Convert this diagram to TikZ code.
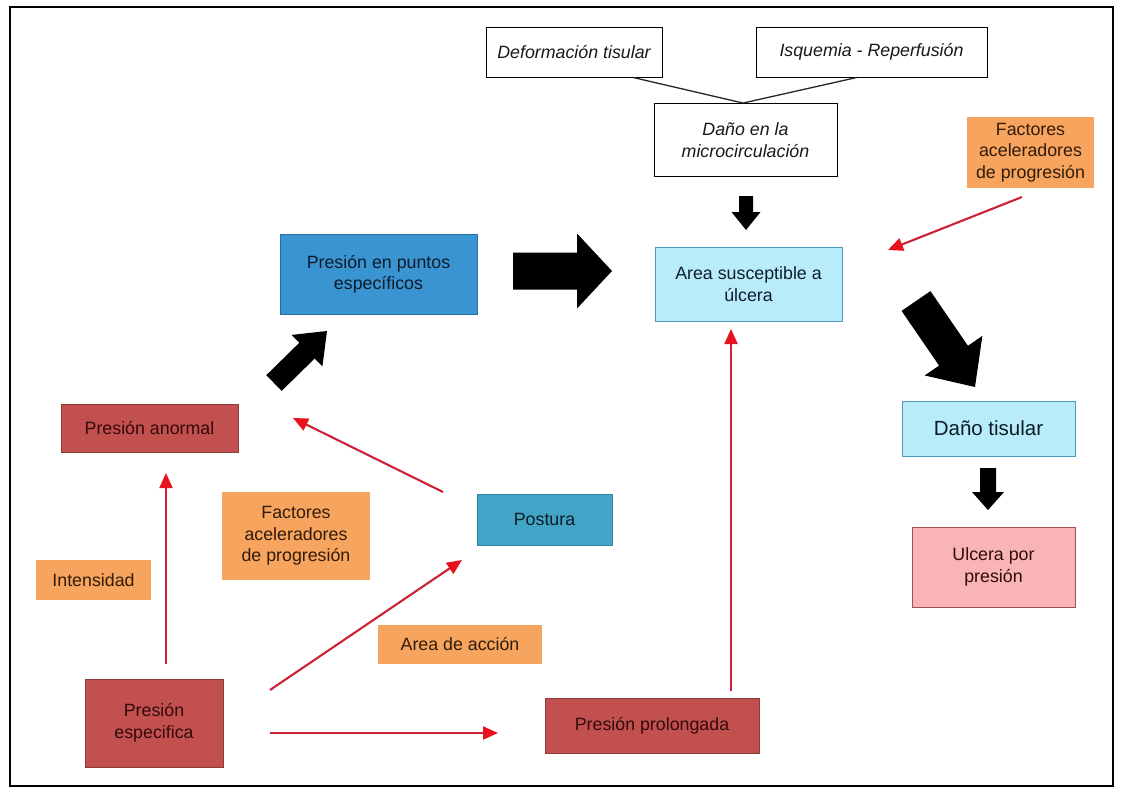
\documentclass[tikz,border=0pt]{standalone}
\usepackage{fontspec}
\setmainfont{Liberation Sans}
\usetikzlibrary{calc,arrows.meta}
\definecolor{cred}{RGB}{194,80,78}
\definecolor{credb}{RGB}{140,58,58}
\definecolor{credt}{RGB}{50,10,10}
\definecolor{cblue}{RGB}{58,148,210}
\definecolor{cblueb}{RGB}{40,110,160}
\definecolor{cteal}{RGB}{66,164,198}
\definecolor{ccyan}{RGB}{184,236,250}
\definecolor{ccyanb}{RGB}{80,150,190}
\definecolor{cpink}{RGB}{248,180,182}
\definecolor{cpinkb}{RGB}{160,80,80}
\definecolor{corange}{RGB}{246,164,94}
\definecolor{cdark}{RGB}{14,28,40}
\definecolor{cbrown}{RGB}{50,28,10}
\definecolor{rline}{RGB}{205,34,54}
\definecolor{rtip}{RGB}{232,18,30}
\newcommand\fatarrow[5]{%
  \coordinate (fah) at ($(#2)!#5!(#1)$);
  \fill[black] ($(#1)!#3!90:(#2)$) -- ($(fah)!#3!90:(#2)$) -- ($(fah)!#4!90:(#2)$) -- (#2)
    -- ($(fah)!#4!-90:(#2)$) -- ($(fah)!#3!-90:(#2)$) -- ($(#1)!#3!-90:(#2)$) -- cycle;}
\begin{document}
\begin{tikzpicture}[x=1pt,y=-1pt,
  box/.style={rectangle,inner sep=0pt,align=center,font=\fontsize{17.8}{21.5}\selectfont,line width=0.9pt},
  whitebox/.style={box,draw=black,fill=white,font=\fontsize{17.8}{21.5}\selectfont\itshape,text=black!90},
  redbox/.style={box,fill=cred,draw=credb,text=credt},
  bluebox/.style={box,fill=cblue,draw=cblueb,text=cdark},
  tealbox/.style={box,fill=cteal,draw=cteal!80!black,text=cdark},
  cyanbox/.style={box,fill=ccyan,draw=ccyanb,text=cdark},
  pinkbox/.style={box,fill=cpink,draw=cpinkb,text=credt},
  orangebox/.style={box,fill=corange,text=cbrown},
  redarrow/.style={draw=rline,line width=2.1pt,-{Triangle[length=15pt,width=13pt,color=rtip]}},
  thinline/.style={draw=black!85,line width=1.3pt}]
\useasboundingbox (0,0) rectangle (1123,792);
\fill[white] (0,0) rectangle (1123,792);
\draw[line width=1.2pt] (10,7) rectangle (1113,786);

% nodes
\node[whitebox,minimum width=176pt,minimum height=50pt] (def) at (574,52) {Deformación tisular};
\node[whitebox,minimum width=231pt,minimum height=50pt] (isq) at (871.5,52) {Isquemia - Reperfusión};
\node[whitebox,minimum width=183pt,minimum height=73pt] (micro) at (745.5,140) {Daño en la\\microcirculación};
\node[orangebox,minimum width=127pt,minimum height=71pt] (fac1) at (1030.5,152.5) {Factores\\aceleradores\\de progresión};
\node[cyanbox,minimum width=187pt,minimum height=74pt] (area) at (748.5,284) {Area susceptible a\\úlcera};
\node[bluebox,minimum width=197pt,minimum height=80pt] (ppe) at (378.5,274.5) {Presión en puntos\\específicos};
\node[cyanbox,minimum width=173pt,minimum height=55pt,font=\fontsize{20.5}{24}\selectfont] (dt) at (988.5,428.5) {Daño tisular};
\node[pinkbox,minimum width=163pt,minimum height=80pt] (ul) at (993.5,567) {Ulcera por\\presión};
\node[redbox,minimum width=177pt,minimum height=48pt] (pan) at (149.5,428) {Presión anormal};
\node[tealbox,minimum width=135pt,minimum height=51pt] (post) at (544.5,519.5) {Postura};
\node[orangebox,minimum width=148pt,minimum height=88pt] (fac2) at (296,536) {Factores\\aceleradores\\de progresión};
\node[orangebox,minimum width=115pt,minimum height=40pt] (int) at (93.5,580) {Intensidad};
\node[redbox,minimum width=138pt,minimum height=88pt] (pes) at (154,723) {Presión\\especifica};
\node[orangebox,minimum width=164pt,minimum height=39pt] (aac) at (460,644.5) {Area de acción};
\node[redbox,minimum width=214pt,minimum height=55pt] (ppr) at (652,725.5) {Presión prolongada};

% thin lines into microcirculation
\coordinate (mtop) at ($(micro.north)+(-2.5,0)$);
\draw[thinline] ($(def.south)+(59,0)$) -- (mtop);
\draw[thinline] ($(isq.south)+(-14.5,0)$) -- (mtop);

% fat black arrows
\coordinate (a1s) at (746,196); \coordinate (a1e) at (746,230);
\fatarrow{a1s}{a1e}{7pt}{14.5pt}{18pt}
\coordinate (a2s) at (513,271); \coordinate (a2e) at (612,271);
\fatarrow{a2s}{a2e}{18.5pt}{37.5pt}{35pt}
\coordinate (a3s) at (274,383); \coordinate (a3e) at (327,331);
\fatarrow{a3s}{a3e}{11pt}{22pt}{28pt}
\coordinate (a4s) at (916,301); \coordinate (a4e) at (975,387);
\fatarrow{a4s}{a4e}{17.5pt}{35pt}{38pt}
\coordinate (a5s) at (988,468); \coordinate (a5e) at (988,510);
\fatarrow{a5s}{a5e}{8pt}{16pt}{18pt}

% red arrows
\coordinate (r1s) at (1022,197); \coordinate (r1e) at (888,250);
\draw[redarrow] (r1s) -- (r1e);
\coordinate (r2s) at (166,664); \coordinate (r2e) at (166,473);
\draw[redarrow] (r2s) -- (r2e);
\coordinate (r3s) at (443,492); \coordinate (r3e) at (293,418);
\draw[redarrow] (r3s) -- (r3e);
\coordinate (r4s) at (270,690); \coordinate (r4e) at (462,560);
\draw[redarrow] (r4s) -- (r4e);
\coordinate (r5s) at (270,733); \coordinate (r5e) at (498,733);
\draw[redarrow] (r5s) -- (r5e);
\coordinate (r6s) at (731,691); \coordinate (r6e) at (731,329);
\draw[redarrow] (r6s) -- (r6e);
\end{tikzpicture}
\end{document}
